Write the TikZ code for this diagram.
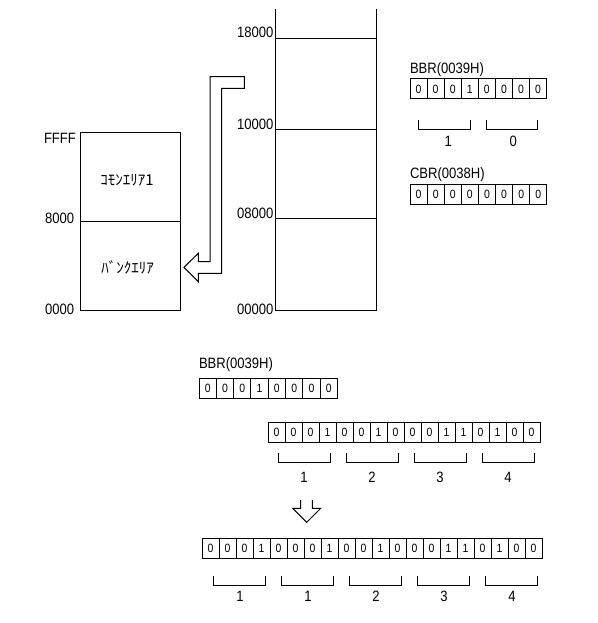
\documentclass[tikz,border=0pt]{standalone}
\usepackage{fontspec}
\setmainfont{Liberation Sans}
\newfontfamily\lblfont{Liberation Sans}[FakeStretch=0.87]
\newfontfamily\jpfont{Noto Sans CJK JP}
\newcommand{\regrow}[6]{%
  \foreach \b [count=\i] in {#6} {
    \node[bitcell, minimum width=#4pt, anchor=north west] (#1-\i) at ({#2+(\i-1)*#4}, #3) {\b};
  }}
\begin{document}
\begin{tikzpicture}[x=1pt,y=-1pt, line width=1pt,
  every node/.style={inner sep=0pt, outer sep=0pt},
  lbl/.style={font=\lblfont\fontsize{15}{16}\selectfont},
  bitcell/.style={draw, font=\lblfont\fontsize{12}{13}\selectfont, minimum height=20pt},
  brk/.style={line width=1pt},
  jp/.style={font=\jpfont\fontsize{15}{16}\selectfont}]
\useasboundingbox (0,0) rectangle (597,623);

% memory column
\draw (275.5,9) -- (275.5,310.5) -- (376.5,310.5) -- (376.5,9);
\foreach \yy in {38.5,129,218} \draw (275.5,\yy) -- (376.5,\yy);
\node[lbl, anchor=base east] (m18) at (273.5,38) {18000};
\node[lbl, anchor=base east] (m10) at (273.5,129) {10000};
\node[lbl, anchor=base east] (m08) at (273.5,218) {08000};
\node[lbl, anchor=base east] (m00) at (273.5,314) {00000};

% left box
\draw (80,132.5) rectangle (180.5,310.5);
\draw (80,221) -- (180.5,221);
\node[lbl, anchor=base west] (ffff) at (44,143.5) {FFFF};
\node[lbl, anchor=base west] (l80) at (45,223.5) {8000};
\node[lbl, anchor=base west] (l00) at (45,314) {0000};
\node[jp] (common) at (127,180) {ｺﾓﾝｴﾘｱ1};
\node[jp] (bank) at (127.5,267.5) {ﾊﾞﾝｸｴﾘｱ};

% hollow arrow
\draw (244.3,76.7) -- (210,76.7) -- (210,261.7) -- (198.3,261.7) -- (198.3,253.3)
  -- (184,267.3) -- (198.3,281.7) -- (198.3,273.3) -- (221.7,273.3)
  -- (221.7,88.3) -- (244.3,88.3) -- cycle;

% upper BBR
\node[lbl, anchor=base west] (bbr1) at (410,74) {BBR(0039H)};
\regrow{ub}{410}{79}{17.08}{20}{0,0,0,1,0,0,0,0}
\draw[brk] (418.3,120) |- (470.7,129) -- (470.7,120);
\draw[brk] (486,120) |- (537.3,129) -- (537.3,120);
\node[lbl] (ub1) at (448.3,141.7) {1};
\node[lbl] (ub0) at (513.3,141.7) {0};

% CBR
\node[lbl, anchor=base west] (cbr) at (410,178) {CBR(0038H)};
\regrow{cb}{410}{184.5}{17.1}{20}{0,0,0,0,0,0,0,0}

% lower BBR
\node[lbl, anchor=base west] (bbr2) at (199,368) {BBR(0039H)};
\regrow{lb}{199}{378.5}{17.3}{20}{0,0,0,1,0,0,0,0}

% 16-bit address
\regrow{ad}{268}{422.5}{17}{20}{0,0,0,1,0,0,1,0,0,0,1,1,0,1,0,0}
\foreach \g/\t in {0/1,1/2,2/3,3/4} {
  \draw[brk] ({268+68*\g+10},453.3) |- ({268+68*\g+62},462.7) -- ({268+68*\g+62},453.3);
  \node[lbl] (ad-l\t) at ({268+68*\g+36},477) {\t};
}

% down arrow
\draw (300.7,500) -- (300.7,508.3) -- (292.7,508.3) -- (306.7,522.3)
  -- (320.7,508.3) -- (312.3,508.3) -- (312.3,500);

% 20-bit physical address
\regrow{pa}{202}{538}{17}{20}{0,0,0,1,0,0,0,1,0,0,1,0,0,0,1,1,0,1,0,0}
\foreach \g/\t in {0/1,1/1,2/2,3/3,4/4} {
  \draw[brk] ({202+68*\g+11},576) |- ({202+68*\g+63},585) -- ({202+68*\g+63},576);
  \node[lbl] (pa-l\g) at ({202+68*\g+38},596.7) {\t};
}
\end{tikzpicture}
\end{document}
